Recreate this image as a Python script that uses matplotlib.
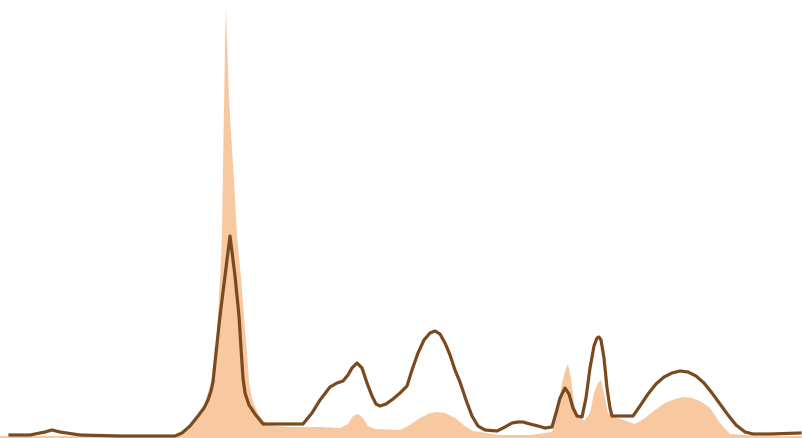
import numpy as np
import matplotlib.pyplot as plt

# courbe principale (trait brun)
x_ligne = [10, 30, 45, 52, 60, 80, 120, 175, 182, 190, 198, 204, 208, 211, 213, 216, 220, 225, 230, 235,
           239, 241, 243, 245, 249, 255, 263, 280, 303, 312, 320, 330, 337, 343, 348, 352, 357, 362,
           367, 372, 376, 380, 386, 393, 400, 407, 412, 418, 424, 430, 435, 440, 445, 450, 455, 460, 466,
           472, 478, 485, 497, 505, 512, 518, 523, 530, 538, 545, 552, 556, 560, 565, 569, 573, 577, 582,
           586, 590, 594, 597, 599, 601, 604, 607, 610, 612, 620, 633, 640, 648, 656, 664, 672, 680, 688,
           696, 704, 712, 720, 728, 736, 745, 753, 770, 800]
y_ligne = [3, 3, 6, 8, 6, 3, 2, 2, 5, 12, 22, 30, 38, 47, 56, 85, 122, 162, 202, 162,
           122, 90, 60, 45, 33, 24, 14, 14, 14, 25, 38, 51, 55, 57, 63, 70, 75, 70,
           55, 42, 34, 32, 34, 39, 45, 52, 68, 85, 98, 105, 107, 104, 95, 83, 68, 56, 38,
           22, 12, 8, 7, 11, 15, 16, 16, 14, 12, 10, 11, 25, 40, 50, 44, 30, 22, 21,
           40, 70, 92, 100, 101, 98, 80, 50, 30, 22, 22, 22, 32, 44, 54, 61, 65, 67, 66,
           62, 55, 45, 34, 23, 13, 6, 4, 4, 5]

# aire remplie (peche)
x_aire = [0, 100, 180, 190, 198, 205, 211, 216, 218, 221, 222, 223, 224, 225, 226, 227, 229, 232, 235,
          237, 241, 244, 247, 249, 252, 258, 265, 275, 290, 320, 340, 348, 353, 358, 363, 368, 375, 400,
          410, 420, 430, 437, 445, 455, 465, 473, 500, 530, 552, 558, 562, 566, 568, 571, 574, 578, 584,
          590, 594, 598, 601, 604, 608, 612, 635, 645, 655, 665, 675, 683, 692, 700, 710, 720, 730, 760,
          803]
y_aire = [2, 2, 3, 10, 22, 35, 56, 90, 122, 180, 202, 272, 330, 390, 430, 400, 340, 289, 240,
          202, 160, 122, 85, 56, 40, 24, 16, 12, 11, 11, 10, 14, 22, 24, 20, 12, 9, 8,
          13, 20, 25, 26, 25, 20, 12, 7, 3, 3, 6, 30, 55, 70, 74, 60, 35, 22, 17,
          25, 45, 55, 58, 45, 25, 22, 14, 20, 28, 35, 39, 41, 40, 37, 30, 15, 4, 2,
          2]

fig = plt.figure(figsize=(8.03, 4.39), dpi=100)
ax = fig.add_axes([0, 0, 1, 1])
ax.fill_between(x_aire, y_aire, 0, color='#F8C9A1', linewidth=0)
ax.plot(x_ligne, y_ligne, color='#7A4A1E', linewidth=2.3, solid_joinstyle='round')
ax.set_xlim(0, 803)
ax.set_ylim(0, 439)
ax.axis('off')
fig.savefig('out.png', dpi=100)
